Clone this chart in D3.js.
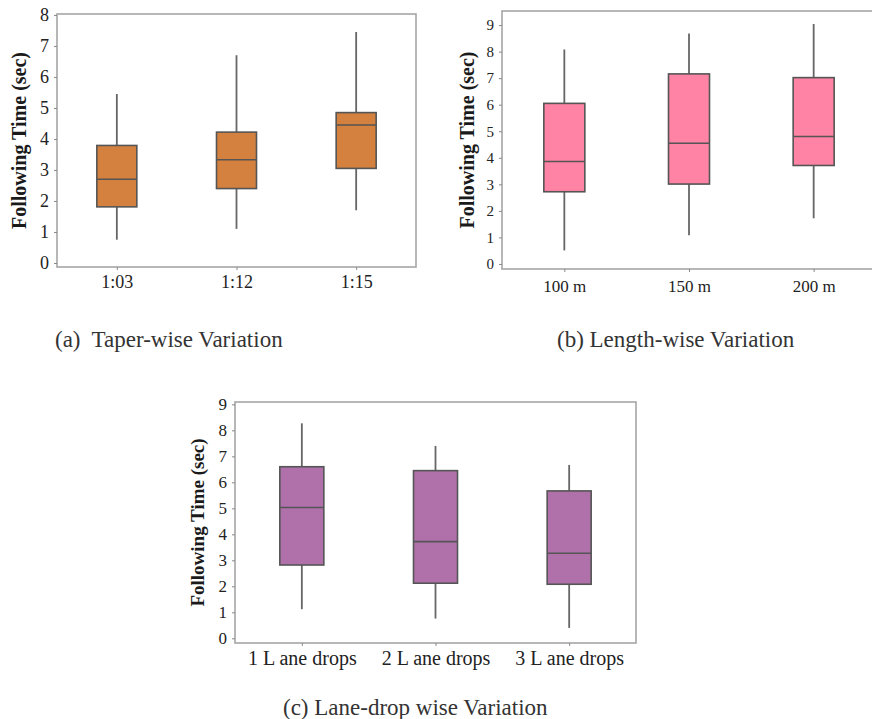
<!DOCTYPE html>
<html>
<head>
<meta charset="utf-8">
<script src="https://cdn.jsdelivr.net/npm/d3@7"></script>
<style>
  body { margin: 0; background: #fff; }
  svg { display: block; }
  .tick text { font-family: "Liberation Serif", "Times New Roman", serif; fill: #222; }
  .tick line { stroke: #888; }
  .title { font-family: "Liberation Serif", "Times New Roman", serif; font-weight: bold; fill: #1a1a1a; }
  .caption { font-family: "Liberation Serif", "Times New Roman", serif; fill: #333; }
</style>
</head>
<body>
<svg id="chart" width="872" height="719"></svg>
<script>
// five-number summaries: [min, q1, median, q3, max]
const taperCats = ["1:03", "1:12", "1:15"];
const taperStats = [
  [0.75, 1.81, 2.70, 3.79, 5.45],
  [1.10, 2.40, 3.33, 4.22, 6.70],
  [1.70, 3.05, 4.45, 4.85, 7.45]
];
const taperTicks = [0, 1, 2, 3, 4, 5, 6, 7, 8];

const lengthCats = ["100 m", "150 m", "200 m"];
const lengthStats = [
  [0.51, 2.72, 3.86, 6.05, 8.08],
  [1.08, 3.01, 4.55, 7.16, 8.68],
  [1.72, 3.71, 4.80, 7.02, 9.04]
];
const lengthTicks = [0, 1, 2, 3, 4, 5, 6, 7, 8, 9];

const laneCats = ["1 L ane drops", "2 L ane drops", "3 L ane drops"];
const laneStats = [
  [1.12, 2.82, 5.03, 6.60, 8.27],
  [0.76, 2.12, 3.72, 6.45, 7.40],
  [0.40, 2.08, 3.27, 5.67, 6.67]
];
const laneTicks = [0, 1, 2, 3, 4, 5, 6, 7, 8, 9];

const svg = d3.select("#chart");

function boxPanel(opt) {
  const g = svg.append("g");
  const x = d3.scalePoint().domain(opt.cats).range([opt.left, opt.right]).padding(0.5);
  const y = d3.scaleLinear().domain(opt.yDomain).range([opt.bottom, opt.top]);

  g.append("rect")
    .attr("x", opt.left).attr("y", opt.top)
    .attr("width", opt.right - opt.left).attr("height", opt.bottom - opt.top)
    .attr("fill", "none").attr("stroke", "#a6a6a6").attr("stroke-width", 1.6);

  const ya = g.append("g")
    .attr("transform", `translate(${opt.left},0)`)
    .call(d3.axisLeft(y).tickValues(opt.ticks).tickFormat(d3.format("d"))
      .tickSize(3).tickPadding(opt.yPad));
  ya.select(".domain").remove();
  ya.selectAll("text").style("font-size", opt.yFont + "px");

  const xa = g.append("g")
    .attr("transform", `translate(0,${opt.bottom})`)
    .call(d3.axisBottom(x).tickSize(3).tickPadding(opt.xPad));
  xa.select(".domain").remove();
  xa.selectAll("text").style("font-size", opt.xFont + "px");

  const boxes = g.selectAll(".box").data(opt.stats).join("g")
    .attr("transform", (d, i) => `translate(${x(opt.cats[i])},0)`);
  const hw = opt.boxW / 2;
  boxes.append("line")
    .attr("x1", 0).attr("x2", 0)
    .attr("y1", d => y(d[0])).attr("y2", d => y(d[4]))
    .attr("stroke", "#666").attr("stroke-width", 1.8);
  boxes.append("rect")
    .attr("x", -hw).attr("width", opt.boxW)
    .attr("y", d => y(d[3])).attr("height", d => y(d[1]) - y(d[3]))
    .attr("fill", opt.color).attr("stroke", "#555").attr("stroke-width", 1.6);
  boxes.append("line")
    .attr("x1", -hw).attr("x2", hw)
    .attr("y1", d => y(d[2])).attr("y2", d => y(d[2]))
    .attr("stroke", "#555").attr("stroke-width", 1.6);

  g.append("text").attr("class", "title")
    .attr("transform", `translate(${opt.titleX},${(opt.top + opt.bottom) / 2}) rotate(-90)`)
    .attr("text-anchor", "middle").attr("dy", "0.35em")
    .style("font-size", opt.titleFont + "px")
    .text("Following Time (sec)");

  g.append("text").attr("class", "caption")
    .attr("x", opt.capX).attr("y", opt.capY).attr("dy", "0.35em")
    .style("font-size", "23px")
    .attr("xml:space", "preserve")
    .text(opt.caption);
}

boxPanel({
  cats: taperCats, stats: taperStats, ticks: taperTicks, color: "#d4813f",
  left: 57, right: 416, top: 14, bottom: 267, yDomain: [-0.13, 8.03],
  boxW: 40, yFont: 18, xFont: 18, yPad: 5, xPad: 5, titleX: 19, titleFont: 20,
  caption: "(a)  Taper-wise Variation", capX: 55, capY: 339
});

boxPanel({
  cats: lengthCats, stats: lengthStats, ticks: lengthTicks, color: "#fe83a5",
  left: 502, right: 876, top: 11, bottom: 269, yDomain: [-0.19, 9.53],
  boxW: 41, yFont: 15, xFont: 17, yPad: 5, xPad: 8, titleX: 467, titleFont: 20,
  caption: "(b) Length-wise Variation", capX: 557, capY: 339
});

boxPanel({
  cats: laneCats, stats: laneStats, ticks: laneTicks, color: "#b071ab",
  left: 235, right: 636, top: 402, bottom: 643, yDomain: [-0.18, 9.09],
  boxW: 44, yFont: 17, xFont: 20, yPad: 5, xPad: 5, titleX: 197, titleFont: 19,
  caption: "(c) Lane-drop wise Variation", capX: 283, capY: 707
});
</script>
</body>
</html>
